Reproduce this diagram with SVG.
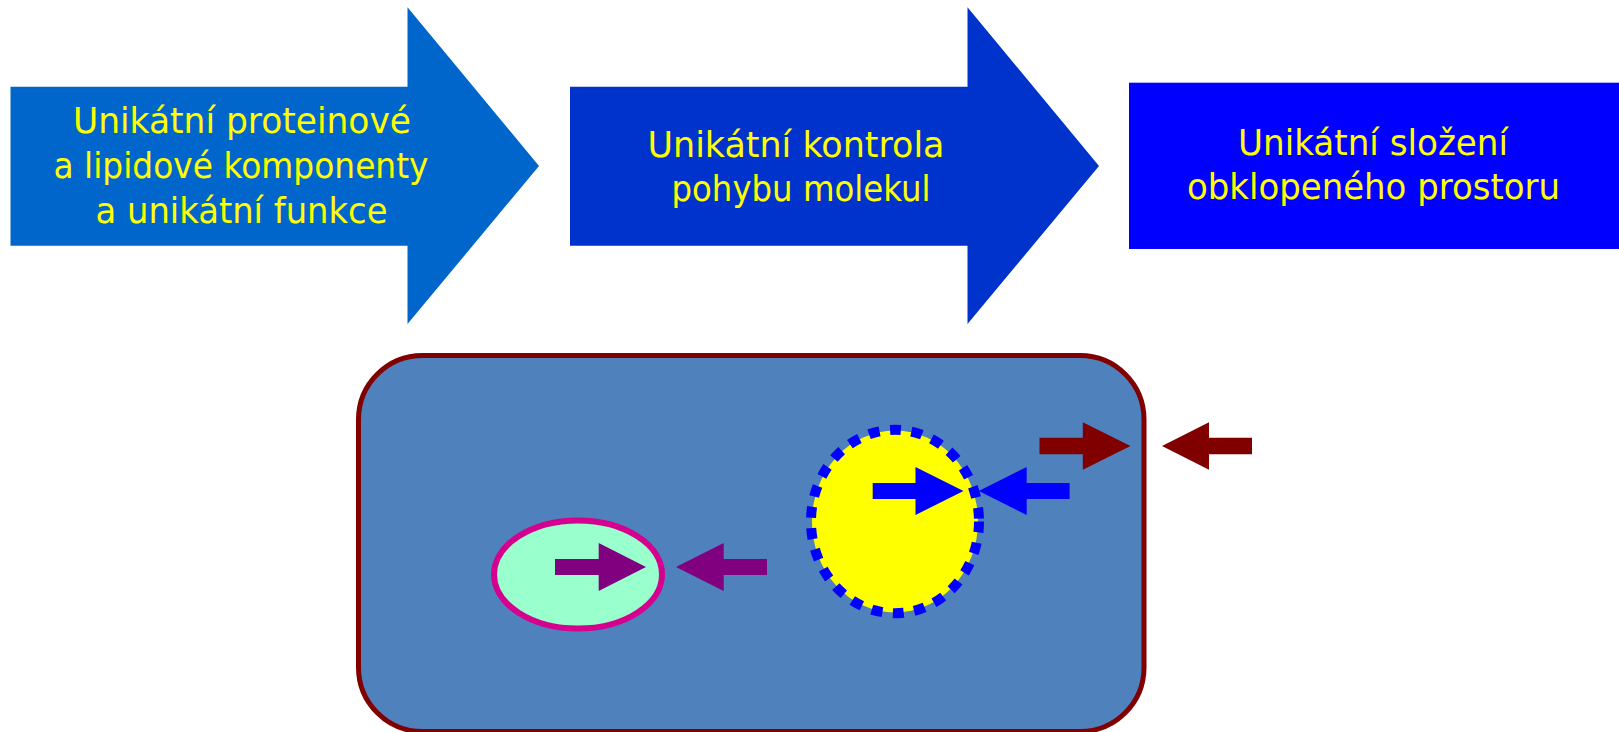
<svg xmlns="http://www.w3.org/2000/svg" width="1619" height="732" viewBox="0 0 1619 732">
<style>
.lbl{font-family:"DejaVu Sans","Liberation Sans",sans-serif;font-size:35px;fill:#FFFF00;text-anchor:middle}
</style>
<rect width="1619" height="732" fill="#FFFFFF"/>
<g id="step1">
<polygon points="10.5,86.7 407.5,86.7 407.5,7.3 539,166 407.5,324 407.5,245.7 10.5,245.7" fill="#0066CC"/>
<text class="lbl" x="242" y="133" textLength="338" lengthAdjust="spacingAndGlyphs">Unikátní proteinové</text>
<text class="lbl" x="241" y="178" textLength="375" lengthAdjust="spacingAndGlyphs">a lipidové komponenty</text>
<text class="lbl" x="241.5" y="223" textLength="292" lengthAdjust="spacingAndGlyphs">a unikátní funkce</text>
</g>
<g id="step2">
<polygon points="570,86.7 967.5,86.7 967.5,7.3 1099,166 967.5,324 967.5,245.7 570,245.7" fill="#0033CC"/>
<text class="lbl" x="796" y="156.7" textLength="297" lengthAdjust="spacingAndGlyphs">Unikátní kontrola</text>
<text class="lbl" x="801" y="201" textLength="259" lengthAdjust="spacingAndGlyphs">pohybu molekul</text>
</g>
<g id="step3">
<rect x="1129" y="82.7" width="490" height="166.3" fill="#0000FF"/>
<text class="lbl" x="1373" y="155" textLength="270" lengthAdjust="spacingAndGlyphs">Unikátní složení</text>
<text class="lbl" x="1373.5" y="199" textLength="373" lengthAdjust="spacingAndGlyphs">obklopeného prostoru</text>
</g>
<g id="cell">
<rect x="358.5" y="355.5" width="785.5" height="376" rx="64" ry="64" fill="#4F81BD" stroke="#800000" stroke-width="5"/>
</g>
<g id="vesicle">
<ellipse cx="578" cy="574.5" rx="84" ry="54" fill="#99FFCC" stroke="#D6008F" stroke-width="6"/>
</g>
<g id="organelle">
<ellipse cx="895" cy="521.5" rx="83" ry="91" fill="#FFFF00"/>
<ellipse cx="895" cy="521.5" rx="84" ry="91.7" fill="none" stroke="#0000FF" stroke-width="10" stroke-dasharray="11 10.5"/>
</g>
<g id="connectors">
<polygon points="555,559 598.7,559 598.7,543 646,567 598.7,591 598.7,575 555,575" fill="#800080"/>
<polygon points="767,559 723.7,559 723.7,543 676,567 723.7,591 723.7,575 767,575" fill="#800080"/>
<polygon points="872.7,483 915.5,483 915.5,467 963.5,491 915.5,515 915.5,499 872.7,499" fill="#0000FF"/>
<polygon points="1069.6,483 1026.7,483 1026.7,467 978.8,491 1026.7,515 1026.7,499 1069.6,499" fill="#0000FF"/>
<polygon points="1039.5,437.7 1082.8,437.7 1082.8,422.3 1130.5,446 1082.8,469.7 1082.8,454.3 1039.5,454.3" fill="#800000"/>
<polygon points="1252,437.7 1209,437.7 1209,422.3 1162,446 1209,469.7 1209,454.3 1252,454.3" fill="#800000"/>
</g>
</svg>
